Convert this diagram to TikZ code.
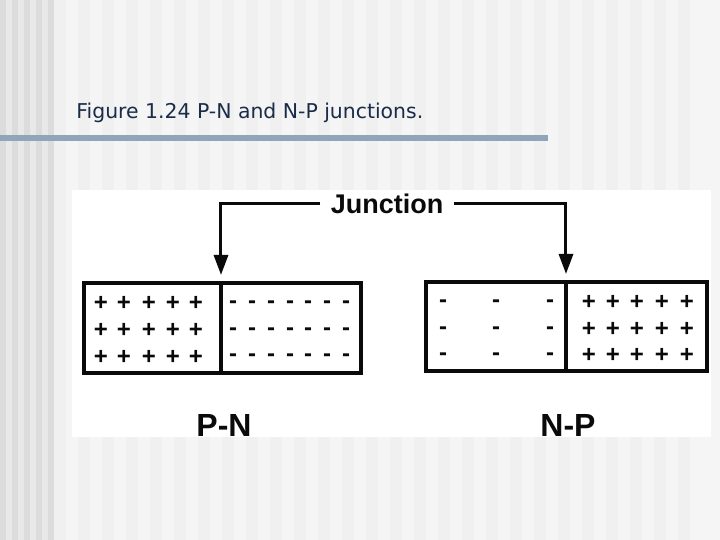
\documentclass[tikz,border=0pt]{standalone}
\usepackage{fontspec}
\setmainfont{DejaVu Sans}
\newfontfamily\figfont{Liberation Sans}
\usetikzlibrary{arrows.meta, positioning}
\definecolor{ink}{HTML}{0A0A0A}
\definecolor{titlec}{HTML}{1A2C48}
\definecolor{barc}{HTML}{90A4BA}
\definecolor{bgdark}{HTML}{DCDCDC}
\definecolor{bgmid}{HTML}{E8E8E8}
\definecolor{bglight}{HTML}{F5F5F5}
\definecolor{bgstripe}{HTML}{F0F0F0}

\begin{document}
\begin{tikzpicture}[x=0.5pt, y=-0.5pt,
    every node/.style={text=ink},
    boxsty/.style={draw=ink, line width=1.7pt},
    feed/.style={-{Triangle[length=10pt, width=7pt]}, line width=1.5pt, ink, shorten >=4pt},
    sign/.style={font=\figfont\fontsize{12}{12}\selectfont\bfseries, inner sep=0pt},
    minus/.style={sign, yshift=-1.4pt},
    lab/.style={font=\figfont\fontsize{16}{18}\selectfont\bfseries, inner sep=1pt}
]

% ---------------- slide background, vertical stripes ----------------
\fill[bgmid] (0,0) rectangle (54,540);
\foreach \i in {0,12,...,48}
    \fill[bgdark] (\i,0) rectangle (\i+6,540);
\fill[bglight] (54,0) rectangle (720,540);
\foreach \i in {54,78,...,700}
    \fill[bgstripe] (\i,0) rectangle (\i+12,540);

% ---------------- slide title and rule ----------------
\node[anchor=base west, inner sep=0pt, text=titlec, font=\fontsize{10.2}{12}\selectfont] (title) at (76,119)
    {Figure 1.24 P-N and N-P junctions.};
\fill[barc] (0,135) rectangle (548,141);

% ---------------- figure panel ----------------
\fill[white] (72,190) rectangle (711,437);

% P-N bar
\draw[boxsty] (84,283) rectangle (361,373);
\draw[boxsty] (221,283) -- (221,373);
\coordinate (pnj) at (221,283);

% N-P bar
\draw[boxsty] (426,282) rectangle (707,371);
\draw[boxsty] (566,282) -- (566,371);
\coordinate (npj) at (566,282);

% junction pointer
\node[font=\figfont\fontsize{13.5}{15}\selectfont\bfseries, inner xsep=5pt] (junc) at (387,204) {Junction};
\draw[feed] (junc.west) -| (pnj);
\draw[feed] (junc.east) -| (npj);

% charges, P-N
\foreach \c [count=\k] in {101,124,149,173,196}
    \foreach \r [count=\m] in {303,330,357}
        \node[sign] (pnp\k\m) at (\c,\r) {+};
\foreach \c [count=\k] in {233,252,271,290,308,327,346}
    \foreach \r [count=\m] in {302,329,355}
        \node[minus] (pnn\k\m) at (\c,\r) {-};

% charges, N-P
\foreach \c [count=\k] in {443,496,550}
    \foreach \r [count=\m] in {301,328,354}
        \node[minus] (npn\k\m) at (\c,\r) {-};
\foreach \c [count=\k] in {589,613,637,662,687}
    \foreach \r [count=\m] in {302,329,355}
        \node[sign] (npp\k\m) at (\c,\r) {+};

% labels
\node[lab] (pnlab) at (224,425) {P-N};
\node[lab] (nplab) at (568,425) {N-P};

\end{tikzpicture}
\end{document}
